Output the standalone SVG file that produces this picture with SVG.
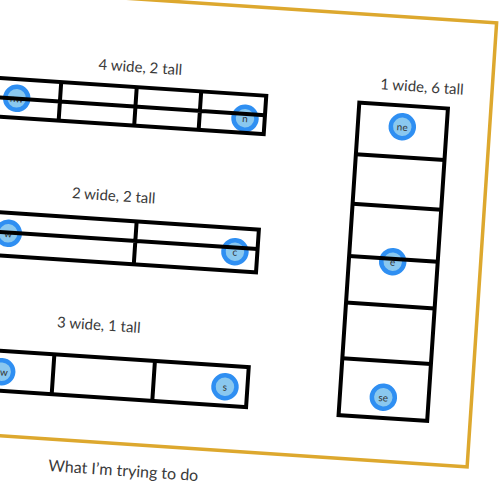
<svg xmlns="http://www.w3.org/2000/svg" width="500" height="500" viewBox="0 0 500 500">
<style>
.grid{fill:none;stroke:#000;stroke-width:4}
.dot{fill:#8AC8EF;stroke:#2F8FF2;stroke-width:4.5}
.dl{font-family:Lato,"Open Sans",sans-serif;font-size:10px;fill:#333;text-anchor:middle;dominant-baseline:central}
.lbl{font-family:Lato,"Open Sans",sans-serif;font-size:15px;fill:#3a3a3a;text-anchor:middle}
.cap{font-size:16px}
.frame{fill:none;stroke:#DDA82E;stroke-width:3.5}
</style>
<rect width="500" height="500" fill="#fff"/>
<g transform="rotate(3.8 250 250)">
  <rect class="frame" x="-40" y="7" width="521" height="445"/>
  <g id="connectors"></g>
  <g id="dots">
    <g id="dot-nw"><circle class="dot" cx="7.2" cy="114.1" r="11.5"/><text class="dl" x="7.2" y="114.1">nw</text></g>
    <g id="dot-n"><circle class="dot" cx="236.3" cy="118.9" r="11.5"/><text class="dl" x="236.3" y="118.9">n</text></g>
    <g id="dot-w"><circle class="dot" cx="7.7" cy="249.4" r="11.5"/><text class="dl" x="7.7" y="249.4">w</text></g>
    <g id="dot-c"><circle class="dot" cx="235.1" cy="252.7" r="11.5"/><text class="dl" x="235.1" y="252.7">c</text></g>
    <g id="dot-sw"><circle class="dot" cx="10.3" cy="387.9" r="11.5"/><text class="dl" x="10.3" y="387.9">sw</text></g>
    <g id="dot-s"><circle class="dot" cx="234.1" cy="388.1" r="11.5"/><text class="dl" x="234.1" y="388.1">s</text></g>
    <g id="dot-ne"><circle class="dot" cx="393.8" cy="116.9" r="11.5"/><text class="dl" x="393.8" y="116.9">ne</text></g>
    <g id="dot-e"><circle class="dot" cx="393.2" cy="252.2" r="11.5"/><text class="dl" x="393.2" y="252.2">e</text></g>
    <g id="dot-se"><circle class="dot" cx="392.8" cy="388.1" r="11.5"/><text class="dl" x="392.8" y="388.1">se</text></g>
  </g>
  <g id="grid-4x2">
    <rect class="grid" x="-30" y="95" width="286" height="38.5"/>
    <path class="grid" d="M-30 114.5H256M50.5 95V133.5M126.2 95V133.5M190.8 95V133.5"/>
    <text class="lbl" x="128.5" y="80">4 wide, 2 tall</text>
  </g>
  <g id="grid-2x2">
    <rect class="grid" x="-30" y="229" width="287.5" height="43"/>
    <path class="grid" d="M-30 248.5H257.5M135 229V272"/>
    <text class="lbl" x="110.4" y="210">2 wide, 2 tall</text>
  </g>
  <g id="grid-3x1">
    <rect class="grid" x="-40" y="367" width="296.5" height="40"/>
    <path class="grid" d="M61.7 367V407M162.5 367V407"/>
    <text class="lbl" x="104.1" y="340">3 wide, 1 tall</text>
  </g>
  <g id="grid-1x6">
    <rect class="grid" x="349.3" y="95.7" width="88.8" height="313.1"/>
    <path class="grid" d="M349.3 147.4H438.1M349.3 197.1H438.1M349.3 249.4H438.1M349.3 296.1H438.1M349.3 351.8H438.1"/>
    <text class="lbl" x="410.8" y="81">1 wide, 6 tall</text>
  </g>
  <g id="caption">
    <text class="lbl cap" x="138.3" y="484">What I’m trying to do</text>
  </g>
</g>
</svg>
